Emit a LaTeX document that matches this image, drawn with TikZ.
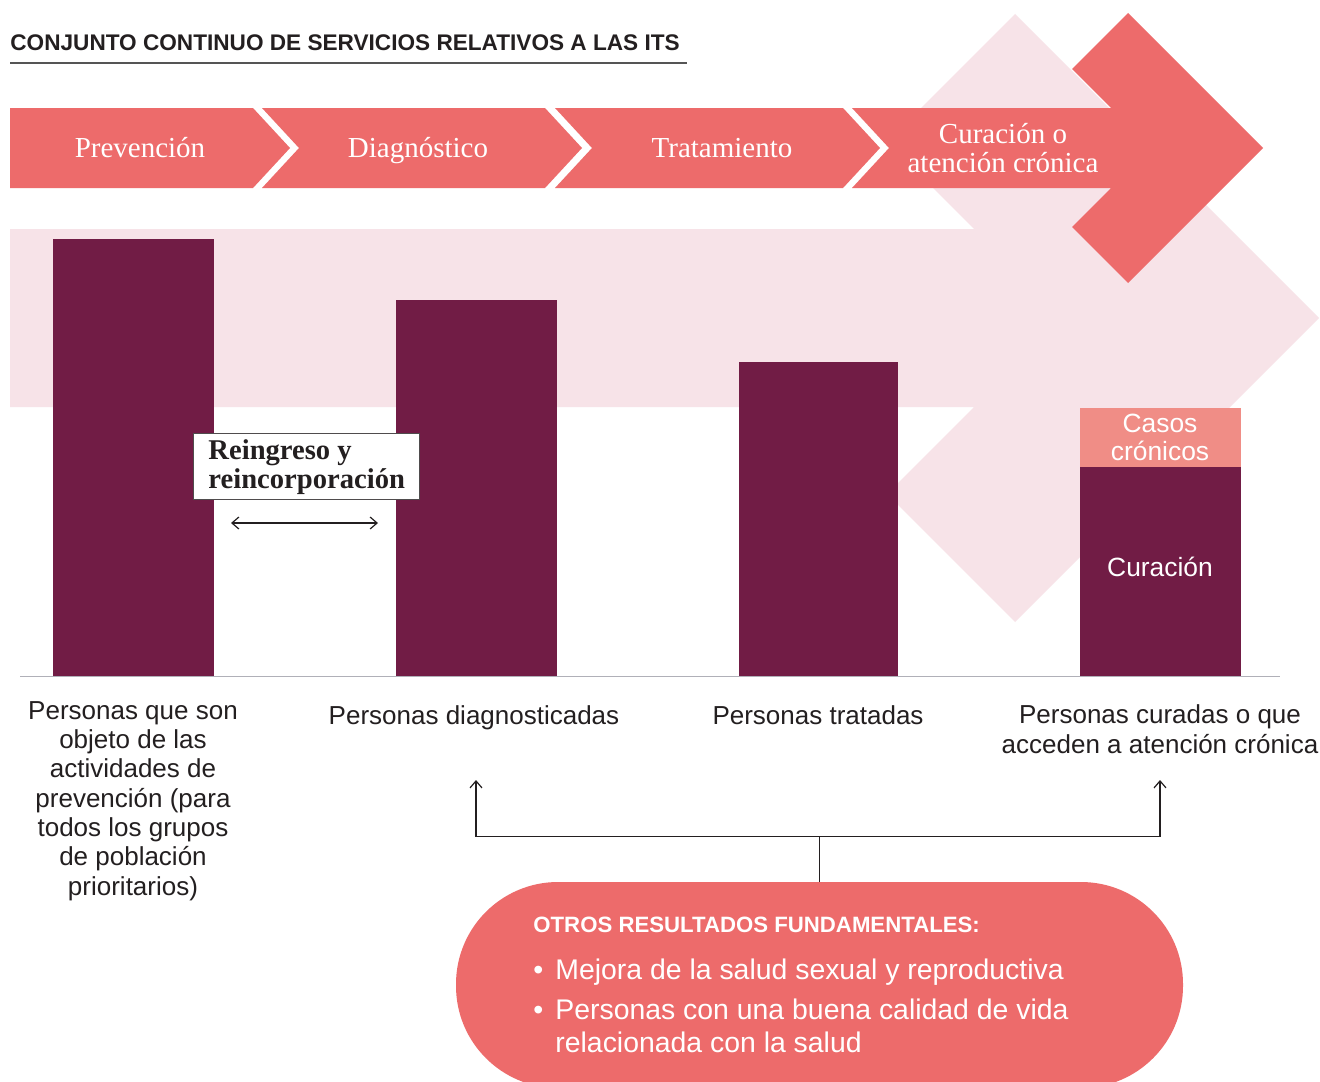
\documentclass[tikz,border=0pt]{standalone}
\usepackage{fontspec}
\setmainfont{Liberation Serif}
\setsansfont{Liberation Sans}
\usetikzlibrary{arrows.meta}
\definecolor{salmon}{HTML}{ED6B6B}
\definecolor{pinklight}{HTML}{F7E3E8}
\definecolor{plum}{HTML}{711C45}
\definecolor{lightsalmon}{HTML}{F08D86}
\definecolor{textdark}{HTML}{231F20}
\definecolor{rulegray}{HTML}{555555}
\definecolor{basegray}{HTML}{B0B0B8}
\begin{document}
\begin{tikzpicture}[x=0.5pt,y=-0.5pt,
  chevtext/.style={text=white, font=\fontsize{14.5}{14.5}\selectfont, inner sep=0, align=center},
  lbl/.style={text=textdark, font=\sffamily\fontsize{13}{14.65}\selectfont, inner sep=0, align=center},
  inbar/.style={text=white, font=\sffamily\fontsize{13.2}{14}\selectfont, inner sep=0, align=center},
  pilltext/.style={text=white, font=\sffamily\fontsize{14.2}{16.5}\selectfont, inner sep=0, align=left},
  barb/.style={line width=0.6pt, draw=textdark},
  tip/.tip={Straight Barb[length=3.5pt,width=6pt,line width=0.6pt]}
]
\useasboundingbox (0,0) rectangle (1320,1081);
\fill[white] (0,0) rectangle (1320,1081);

% title
\node[anchor=base west, inner sep=0, text=textdark, font=\sffamily\bfseries\fontsize{11.3}{12}\selectfont] (title) at (10,51) {CONJUNTO CONTINUO DE SERVICIOS RELATIVOS A LAS ITS};
\draw[rulegray, line width=1pt] (10,63) -- (687,63);

% big pink arrow
\fill[pinklight] (10,229) -- (974,229) -- (887,142) -- (1015,14) -- (1319,318) -- (1015,622) -- (887,494) -- (974,407) -- (10,407) -- cycle;

% chevrons
\fill[salmon] (10,108) -- (253,108) -- (290,148) -- (253,188) -- (10,188) -- cycle;
\fill[salmon] (262,108) -- (545,108) -- (582,148) -- (545,188) -- (262,188) -- (299,148) -- cycle;
\fill[salmon] (555,108) -- (843,108) -- (880,148) -- (843,188) -- (555,188) -- (592,148) -- cycle;
\fill[salmon] (852,108) -- (1111,108) -- (1072,69) -- (1128,13) -- (1263,148) -- (1128,283) -- (1072,227) -- (1111,188) -- (852,188) -- (889,148) -- cycle;

\node[chevtext, anchor=base] (tprev) at (140,157) {Prevención};
\node[chevtext, anchor=base] (tdiag) at (418,157) {Diagnóstico};
\node[chevtext, anchor=base] (ttrat) at (722,157) {Tratamiento};
\node[chevtext, anchor=base] (tcur) at (1003,172) {Curación o\\atención crónica};

% bars
\fill[plum] (53,239) rectangle (214,676);
\fill[plum] (396,300) rectangle (557,676);
\fill[plum] (739,362) rectangle (898,676);
\fill[plum] (1080,467) rectangle (1241,676);
\fill[lightsalmon] (1080,408) rectangle (1241,467);
\draw[basegray, line width=0.5pt] (20,676) -- (1280,676);

\node[inbar, anchor=base] (casos) at (1160,460) {Casos\\crónicos};
\node[inbar, anchor=base] (curac) at (1160,576) {Curación};

% reingreso box
\node[draw=textdark!80, line width=0.7pt, fill=white, anchor=north west, inner xsep=0pt, inner ysep=0pt,
      minimum width=113pt, minimum height=33pt, align=left, text=textdark,
      font=\bfseries\fontsize{14.3}{14.5}\selectfont] (reing) at (193,433) {Reingreso y\\reincorporación};
\coordinate (ra1) at (231,523);
\coordinate (ra2) at (378,523);
\draw[barb, tip-tip] (ra1) -- (ra2);

% labels
\node[lbl, anchor=base] (l1) at (133,895) {Personas que son\\objeto de las\\actividades de\\prevención (para\\todos los grupos\\de población\\prioritarios)};
\node[lbl, anchor=base] (l2) at (474,724) {Personas diagnosticadas};
\node[lbl, anchor=base] (l3) at (818,724) {Personas tratadas};
\node[lbl, anchor=base] (l4) at (1160,753) {Personas curadas o que\\acceden a atención crónica};

% pill
\node[fill=salmon, rounded corners=51pt, minimum width=363.5pt, minimum height=103pt, inner sep=0] (pill) at (819.5,985) {};
\node[anchor=base west, inner sep=0, text=white, font=\sffamily\bfseries\fontsize{11.1}{12}\selectfont] (phead) at (533,932) {OTROS RESULTADOS FUNDAMENTALES:};
\node[pilltext, anchor=base west] (bul1) at (533,979) {•};
\node[pilltext, anchor=base west] (b1) at (555,979) {Mejora de la salud sexual y reproductiva};
\node[pilltext, anchor=base west] (bul2) at (533,1019) {•};
\node[pilltext, anchor=base west] (b2) at (555,1052) {Personas con una buena calidad de vida\\relacionada con la salud};

% connectors
\coordinate (ad) at (476,780);
\coordinate (ac) at (1160,780);
\path (pill.north) ++(0,-45) coordinate (j);
\draw[barb, tip-tip] (ad) |- (j) -| (ac);
\draw[barb] (pill.north) -- (j);
\end{tikzpicture}
\end{document}
